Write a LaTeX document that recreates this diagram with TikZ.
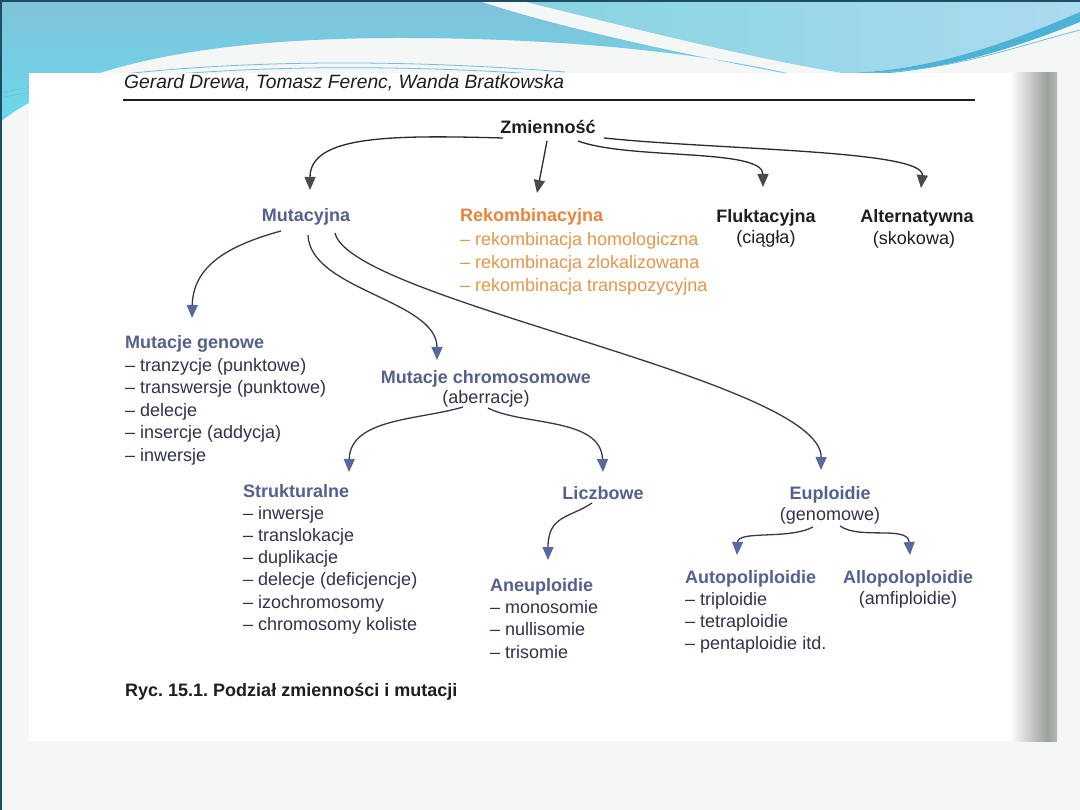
\documentclass[tikz,border=0pt]{standalone}
\usepackage{fontspec}
\setmainfont{Liberation Sans}
\usepackage{graphicx}
\usetikzlibrary{arrows.meta,calc}
\frenchspacing
\definecolor{bg}{HTML}{F5F6F6}
\definecolor{edgec}{HTML}{1D4E63}
\definecolor{blueAa}{HTML}{80C2DA}
\definecolor{blueAb}{HTML}{6AD9EB}
\definecolor{cyanBa}{HTML}{86D4E0}
\definecolor{cyanBb}{HTML}{ADDAF0}
\definecolor{swoosh}{HTML}{4DB3D6}
\definecolor{thinl}{HTML}{6CC3D8}
\definecolor{shadowa}{HTML}{9BA19B}
\definecolor{shadowb}{HTML}{B4B8B3}
\definecolor{hb}{HTML}{55608D}
\definecolor{lt}{HTML}{2F3449}
\definecolor{tk}{HTML}{1E1E1E}
\definecolor{orh}{HTML}{E8843C}
\definecolor{orl}{HTML}{E4964A}
\definecolor{lk}{HTML}{2A2A2A}
\definecolor{tipk}{HTML}{4A4A4A}
\definecolor{lb}{HTML}{363A48}
\definecolor{tipb}{HTML}{5A699B}
\begin{document}
\begin{tikzpicture}[x=1pt,y=-1pt,
  hd/.style={inner sep=0pt,anchor=base,font=\fontsize{18}{22}\selectfont\bfseries\frenchspacing,text=hb},
  hk/.style={inner sep=0pt,anchor=base,font=\fontsize{18}{22}\selectfont\bfseries\frenchspacing,text=tk},
  sub/.style={inner sep=0pt,anchor=base,font=\fontsize{18}{22}\selectfont,text=lt},
  item/.style={inner sep=0pt,anchor=base west,font=\fontsize{18}{22}\selectfont,text=lt},
  oitem/.style={item,text=orl},
  tconn/.style={draw=lk,line width=1.3pt,-{Triangle[length=13pt,width=11pt,color=tipk]}},
  bconn/.style={draw=lb,line width=1.3pt,-{Triangle[length=13pt,width=11pt,color=tipb]}}
]
\useasboundingbox (0,0) rectangle (1080,810);
% slide background
\fill[bg] (0,0) rectangle (1080,810);
\shade[top color=blueAa,bottom color=blueAb] (0,2) -- (482,2) .. controls (560,28) and (700,58) .. (800,76) .. controls (700,52) and (560,38) .. (400,38) .. controls (260,38) and (90,52) .. (0,122) -- cycle;
\shade[left color=cyanBa,right color=cyanBb] (526,2) .. controls (620,25) and (740,56) .. (842,73) .. controls (930,72) and (1010,42) .. (1080,12) -- (1080,2) -- cycle;
\fill[swoosh] (842,73) .. controls (930,72) and (1010,42) .. (1080,12) -- (1080,22) .. controls (1010,50) and (930,76) .. (842,75) -- cycle;
\draw[thinl,line width=0.8pt] (860,73) .. controls (950,72) and (1010,48) .. (1080,30);
\draw[thinl,line width=0.8pt] (0,93) .. controls (150,62) and (350,55) .. (565,72);
\draw[thinl,line width=0.8pt] (0,98) .. controls (150,67) and (350,60) .. (565,76);
\fill[edgec] (0,0) rectangle (1080,2.5);
\fill[edgec] (0,0) rectangle (2,810);
% page
\fill[white] (29,73) rectangle (1057,741);
\shade[left color=white,right color=shadowa] (1010,73) rectangle (1047,741);
\shade[left color=shadowa,right color=shadowb] (1047,73) rectangle (1057,741);
% header
\node[inner sep=0pt,anchor=base west,text=tk] (hdr) at (124,89) {\resizebox{440pt}{!}{\fontsize{19.5}{20}\selectfont\itshape Gerard Drewa, Tomasz Ferenc, Wanda Bratkowska}};
\draw[line width=1.8pt,color=tk] (123,100) -- (975,100);

% nodes
\node[hk] (z) at (548,134) {Zmienność};
\node[hd] (mut) at (306,222) {Mutacyjna};
\node[hd,anchor=base west,text=orh] (rek) at (460,222) {Rekombinacyjna};
\foreach \t [count=\i] in {rekombinacja homologiczna, rekombinacja zlokalizowana, rekombinacja transpozycyjna}
  \node[oitem] (rek\i) at (460,{222+23.2*\i}) {– \t};
\node[hk] (fluk) at (766,223) {Fluktacyjna};
\node[sub,text=tk] (cia) at (766,244) {(ciągła)};
\node[hk] (alt) at (917,223) {Alternatywna};
\node[sub,text=tk] (sko) at (914,245) {(skokowa)};

\node[hd,anchor=base west] (gen) at (125,349) {Mutacje genowe};
\foreach \t [count=\i] in {tranzycje (punktowe), transwersje (punktowe), delecje, insercje (addycja), inwersje}
  \node[item] (gen\i) at (125,{349+22.4*\i}) {– \t};

\node[hd] (chr) at (486,384) {Mutacje chromosomowe};
\node[sub] (abe) at (486,404) {(aberracje)};

\node[hd,anchor=base west] (str) at (243,497) {Strukturalne};
\foreach \t [count=\i] in {inwersje, translokacje, duplikacje, delecje (deficjencje), izochromosomy, chromosomy koliste}
  \node[item] (str\i) at (243,{497+22.2*\i}) {– \t};

\node[hd] (lic) at (603,499) {Liczbowe};
\node[hd] (eup) at (830,499) {Euploidie};
\node[sub] (geno) at (830,520) {(genomowe)};

\node[hd,anchor=base west] (ane) at (490,591) {Aneuploidie};
\foreach \t [count=\i] in {monosomie, nullisomie, trisomie}
  \node[item] (ane\i) at (490,{591+22.4*\i}) {– \t};

\node[hd,anchor=base west] (aut) at (685,583) {Autopoliploidie};
\foreach \t [count=\i] in {triploidie, tetraploidie, pentaploidie itd.}
  \node[item] (aut\i) at (685,{583+22.3*\i}) {– \t};

\node[hd] (allo) at (908,583) {Allopoloploidie};
\node[sub] (amf) at (908,604) {(amfiploidie)};

\node[hk,anchor=base west] (cap) at (125,696) {Ryc. 15.1. Podział zmienności i mutacji};

% connectors
\draw[tconn] ([shift={(-45,4)}]z.base) .. controls +(-110,-3) and +(0,-55) .. ([shift={(4,-32)}]mut.base);
\draw[tconn] ([shift={(-1,7)}]z.base) -- ([shift={(77,-29)}]rek.base west);
\draw[tconn] ([shift={(30,7)}]z.base) .. controls +(52,19) and +(0,-39) .. ([shift={(-3,-36)}]fluk.base);
\draw[tconn] ([shift={(56,4)}]z.base) .. controls +(116,12) and +(4,-38) .. ([shift={(4,-35)}]alt.base);

\draw[bconn] ([shift={(-25,9)}]mut.base) .. controls +(-51,14) and +(1,-53) .. ([shift={(67,-31)}]gen.base west);
\draw[bconn] ([shift={(2,13)}]mut.base) .. controls +(2,55) and +(0,-60) .. ([shift={(-49,-24)}]chr.base);
\draw[bconn] ([shift={(29,11)}]mut.base) .. controls +(15,67) and +(1,-90) .. ([shift={(-9,-29)}]eup.base);
\draw[bconn] ([shift={(-23,3)}]abe.base) .. controls +(-43,13) and +(1,-54) .. ([shift={(106,-25)}]str.base west);
\draw[bconn] ([shift={(2,4)}]abe.base) .. controls +(35,18) and +(-2,-55) .. ([shift={(0,-27)}]lic.base);
\draw[bconn] ([shift={(-11,4)}]lic.base) .. controls +(-22,15) and +(0,-45) .. ([shift={(58,-31)}]ane.base west);
\draw[bconn] ([shift={(-17,7)}]geno.base) .. controls +(-25,13) and +(1,-25) .. ([shift={(52,-28)}]aut.base west);
\draw[bconn] ([shift={(10,6)}]geno.base) .. controls +(20,14) and +(-2,-30) .. ([shift={(2,-28)}]allo.base);
\end{tikzpicture}
\end{document}
